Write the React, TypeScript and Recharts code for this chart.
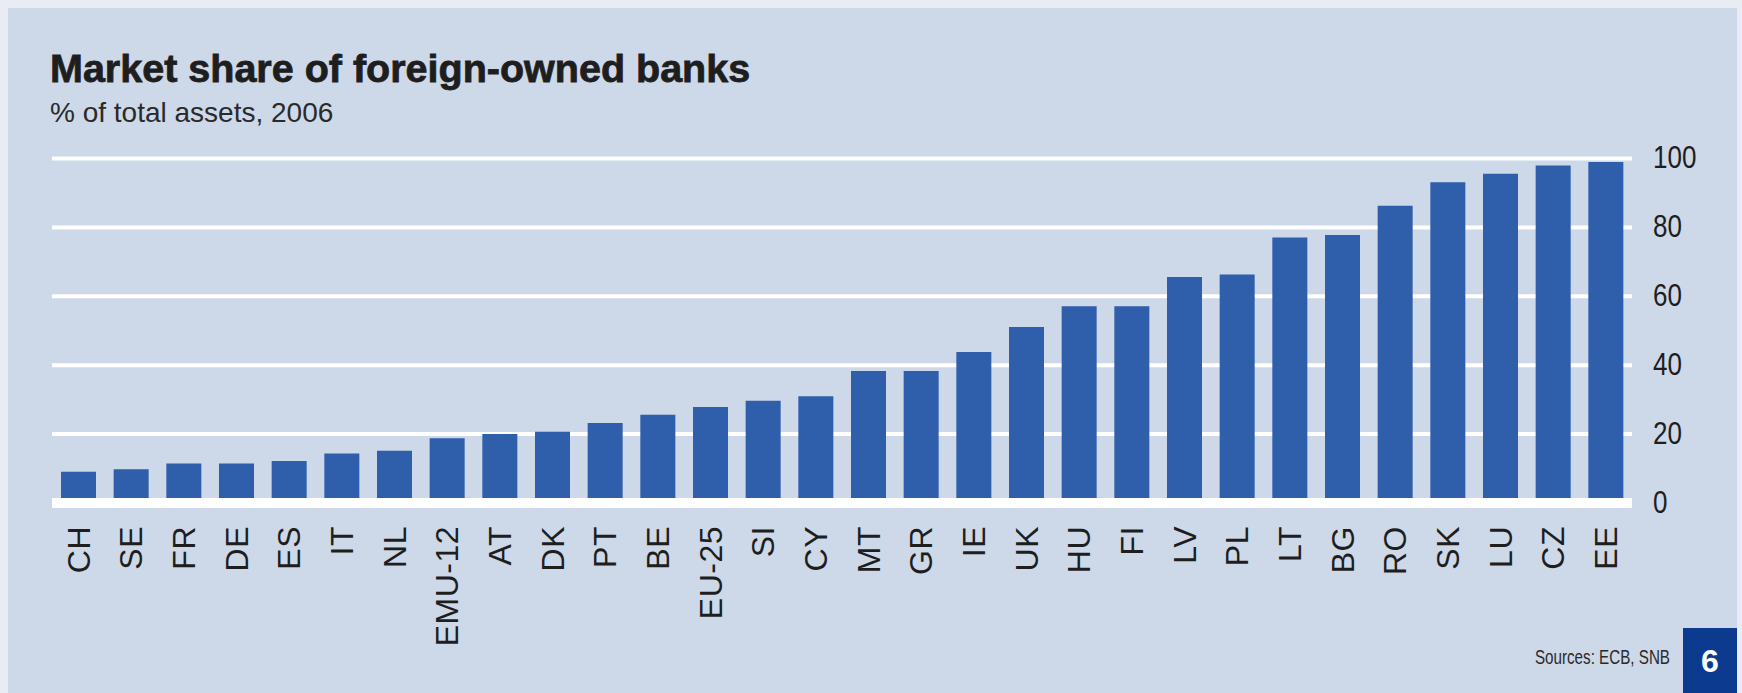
import type { ReactElement } from "react";
import { Bar, BarChart, CartesianGrid, ReferenceLine, XAxis, YAxis } from "recharts";

const COUNTRIES = [
  "CH", "SE", "FR", "DE", "ES", "IT", "NL", "EMU-12", "AT", "DK",
  "PT", "BE", "EU-25", "SI", "CY", "MT", "GR", "IE", "UK", "HU",
  "FI", "LV", "PL", "LT", "BG", "RO", "SK", "LU", "CZ", "EE",
];

// % of total assets held by foreign-owned banks, 2006
const SHARES = [
  9.1, 9.8, 11.5, 11.5, 12.2, 14.4, 15.2, 18.8, 20.0, 20.7,
  23.2, 25.6, 27.9, 29.7, 31.0, 38.3, 38.3, 43.8, 51.1, 57.1,
  57.1, 65.6, 66.3, 77.1, 77.8, 86.3, 93.1, 95.6, 98.0, 99.0,
];

const Y_TICKS = [0, 20, 40, 60, 80, 100];

const PANEL = "#cdd8e9";
const BAR_BLUE = "#2f5eab";
const NAVY = "#0b3a8f";
const TEXT = "#1e1e1e";
const FONT = "'Liberation Sans', Arial, sans-serif";

const data = COUNTRIES.map((label, i) => ({ label, value: SHARES[i] }));

function CountryTick({ x, y, payload }: { x?: number; y?: number; payload?: { value: string } }): ReactElement {
  return (
    <text
      x={x}
      y={y}
      dy="0.35em"
      transform={`rotate(-90, ${x}, ${y})`}
      textAnchor="end"
      fill={TEXT}
      fontSize={32}
      letterSpacing={0.5}
      fontFamily={FONT}
    >
      {payload?.value}
    </text>
  );
}

function ValueTick({ x, y, payload }: { x?: number; y?: number; payload?: { value: number } }): ReactElement {
  return (
    <g transform={`translate(${x}, ${y})`}>
      <text
        transform="scale(0.84, 1)"
        dy="0.32em"
        textAnchor="start"
        fill={TEXT}
        fontSize={31}
        fontFamily={FONT}
      >
        {payload?.value}
      </text>
    </g>
  );
}

export default function App(): ReactElement {
  return (
    <div style={{ position: "relative", width: 1742, height: 693, background: "#e9edf3", overflow: "hidden" }}>
      <style>{"body{margin:0;background:#e9edf3}"}</style>
      <div style={{ position: "absolute", left: 8, top: 8, width: 1729, height: 685, background: PANEL }} />

      <div style={{ position: "absolute", left: 0, top: 0 }}>
        <BarChart
          width={1742}
          height={693}
          data={data}
          margin={{ top: 158.5, right: 0, bottom: 0, left: 52 }}
        >
          <CartesianGrid vertical={false} stroke="#ffffff" strokeWidth={4} />
          <XAxis
            dataKey="label"
            interval={0}
            axisLine={false}
            tickLine={false}
            height={190}
            tickMargin={17}
            tick={<CountryTick />}
          />
          <YAxis
            orientation="right"
            width={110}
            domain={[0, 100]}
            ticks={Y_TICKS}
            axisLine={false}
            tickLine={false}
            tickMargin={15}
            tick={<ValueTick />}
          />
          <Bar dataKey="value" fill={BAR_BLUE} barSize={35} isAnimationActive={false} />
          <ReferenceLine y={0} stroke="#ffffff" strokeWidth={10} />
        </BarChart>
      </div>

      <svg
        width={1742}
        height={693}
        style={{ position: "absolute", left: 0, top: 0, pointerEvents: "none" }}
        fontFamily={FONT}
      >
        <text x={50} y={82} fontSize={39.5} fontWeight="bold" fill={TEXT} stroke={TEXT} strokeWidth={0.8}>
          Market share of foreign-owned banks
        </text>
        <text x={50} y={122} fontSize={28} fill="#2a2a2a">
          % of total assets, 2006
        </text>
        <g transform="translate(1670, 664) scale(0.76, 1)">
          <text x={0} y={0} fontSize={20} fill="#2a2a2a" textAnchor="end">
            Sources: ECB, SNB
          </text>
        </g>
        <rect x={1683} y={628} width={54} height={65} fill={NAVY} />
        <text x={1710} y={672} fontSize={32} fontWeight="bold" fill="#ffffff" textAnchor="middle">
          6
        </text>
      </svg>
    </div>
  );
}
